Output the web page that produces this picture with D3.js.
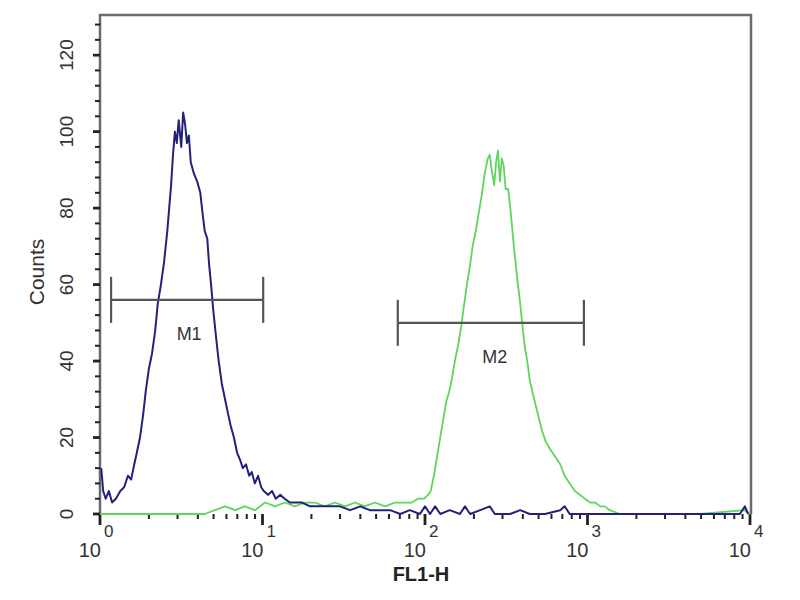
<!DOCTYPE html>
<html>
<head>
<meta charset="utf-8">
<script src="https://cdn.jsdelivr.net/npm/d3@7/dist/d3.min.js"></script>
<style>
  body { margin: 0; background: #fff; }
  svg { display: block; font-family: "Liberation Sans", Arial, sans-serif; }
</style>
</head>
<body>
<div id="canvas"></div>
<script>
"use strict";

/* drawing config */
let svgWidth = 800;
let svgHeight = 600;
let plotLeft = 100, plotRight = 751, plotTop = 15, plotBottom = 514;

/* histogram data: 1024 log channels over 4 decades, counts per channel */
let blueChannel = [2, 5, 9, 14, 19, 25, 32, 38, 44, 49, 54, 58, 63, 68, 72, 77, 82, 87, 91, 96,
  101, 106, 109, 112, 115, 118, 121, 124, 128, 131, 134, 137, 140, 143, 148, 153, 158, 162, 165, 169,
  172, 175, 178, 183, 187, 192, 197, 202, 206, 211, 216, 221, 225, 230, 235, 239, 244, 249, 254, 258,
  265, 271, 277, 284, 291, 299, 309, 318, 331, 347, 362, 378, 394, 410, 425, 441, 457, 473, 488, 504,
  512, 520, 528, 536, 551, 567, 575, 583, 599, 614, 622, 646, 662, 677, 701, 725, 732, 740, 772, 819,
  914, 1008, 1016, 1021];
let blueCount = [12, 6, 4, 6, 3, 4, 6, 7, 10, 9, 13, 16, 20, 26, 32, 38, 42, 48, 55, 60,
  66, 74, 80, 86, 94, 100, 97, 103, 96, 105, 102, 97, 99, 92, 89, 87, 84, 78, 74, 72,
  65, 60, 54, 46, 40, 34, 30, 26, 23, 20, 16, 14, 12, 13, 10, 11, 8, 10, 7, 6,
  5, 6, 4, 5, 4, 3, 3, 3, 2, 2, 2, 2, 1, 2, 1, 1, 1, 0, 1, 0,
  2, 0, 2, 0, 1, 0, 2, 0, 1, 2, 0, 0, 1, 0, 0, 1, 2, 0, 0, 0,
  0, 0, 2, 0];

let greenChannel = [0, 79, 165, 181, 197, 213, 228, 244, 260, 276, 291, 307, 323, 339, 354, 370, 386, 402, 417, 433,
  449, 465, 480, 491, 501, 510, 517, 521, 526, 531, 536, 540, 545, 550, 554, 559, 564, 569, 573, 578,
  583, 587, 592, 597, 602, 606, 611, 614, 617, 621, 624, 627, 630, 633, 636, 639, 643, 647, 652, 657,
  662, 665, 669, 674, 677, 684, 690, 696, 702, 709, 717, 725, 732, 740, 748, 756, 764, 772, 780, 788,
  795, 803, 819, 945, 1016, 1024];
let greenCount = [0, 0, 0, 1, 2, 1, 2, 1, 3, 2, 3, 2, 3, 3, 2, 3, 2, 3, 2, 3,
  2, 3, 3, 3, 4, 4, 5, 6, 10, 15, 20, 24, 29, 32, 35, 40, 44, 49, 54, 60,
  65, 70, 74, 79, 84, 89, 93, 94, 90, 86, 92, 95, 87, 93, 91, 85, 85, 79, 70, 62,
  55, 50, 44, 39, 35, 30, 26, 22, 19, 17, 15, 13, 10, 8, 6, 5, 4, 3, 3, 2,
  2, 1, 0, 0, 1, 0];

/* markers (FL1-H range) */
let markerNames = ["M1", "M2"];
let markerFrom = [1.17, 68];
let markerTo = [10.1, 950];
let markerLevel = [56, 50];

/* axis ticks */
let yTicks = [0, 20, 40, 60, 80, 100, 120];
let xDecades = ["0", "1", "2", "3", "4"];

const svg = d3.select("#canvas")
  .append("svg")
  .attr("width", svgWidth)
  .attr("height", svgHeight);

// scales
const xScale = d3.scaleLog()
  .domain([1, 10000])
  .range([plotLeft, plotRight - 1]);

const yScale = d3.scaleLinear()
  .domain([0, 130.5])
  .range([plotBottom, plotTop]);

// channel -> FL1-H value (256 channels per decade)
const chanToValue = c => Math.pow(10, c / 256);

// frame
svg.append("path")
  .attr("d", `M${plotLeft},${plotBottom}V${plotTop}H${plotRight}V${plotBottom}`)
  .attr("fill", "none")
  .attr("stroke", "#6a6a6a")
  .attr("stroke-width", 2.5);

// y ticks (minor every 4, major every 20)
const yMinor = d3.range(0, 130, 4);
svg.append("g").selectAll("line")
  .data(yMinor)
  .enter()
  .append("line")
  .attr("x1", plotLeft)
  .attr("x2", d => plotLeft - (d % 20 === 0 ? 7 : 5))
  .attr("y1", d => yScale(d))
  .attr("y2", d => yScale(d))
  .attr("stroke", "#222")
  .attr("stroke-width", d => d % 20 === 0 ? 2.8 : 2);

svg.append("g").selectAll("text")
  .data(yTicks)
  .enter()
  .append("text")
  .attr("transform", d => `translate(66,${yScale(d)}) rotate(-90)`)
  .attr("text-anchor", "middle")
  .attr("dy", "0.35em")
  .attr("font-size", "19px")
  .attr("fill", "#333")
  .text(d => String(d));

// x ticks (log)
const xMinor = [];
[0, 1, 2, 3].forEach(dec => {
  for (let m = 1; m < 10; m++) xMinor.push(m * Math.pow(10, dec));
});
xMinor.push(10000);

svg.append("g").selectAll("line")
  .data(xMinor)
  .enter()
  .append("line")
  .attr("x1", d => xScale(d))
  .attr("x2", d => xScale(d))
  .attr("y1", plotBottom)
  .attr("y2", d => plotBottom + (Math.log10(d) % 1 === 0 ? 11 : 5))
  .attr("stroke", "#222")
  .attr("stroke-width", d => Math.log10(d) % 1 === 0 ? 2.8 : 2);

// tick labels 10^n : base and raised exponent
xDecades.forEach(exp => {
  const tx = xScale(Math.pow(10, +exp));
  svg.append("text")
    .attr("x", tx + 1)
    .attr("y", 557)
    .attr("text-anchor", "end")
    .attr("font-size", "20px")
    .attr("fill", "#333")
    .text("10");
  svg.append("text")
    .attr("x", tx + 4)
    .attr("y", 537)
    .attr("text-anchor", "start")
    .attr("font-size", "17px")
    .attr("fill", "#333")
    .text(exp);
});

// axis titles
svg.append("text")
  .attr("x", 421)
  .attr("y", 581)
  .attr("text-anchor", "middle")
  .attr("font-size", "20px")
  .attr("font-weight", "bold")
  .attr("fill", "#222")
  .text("FL1-H");

svg.append("text")
  .attr("transform", "translate(37,272) rotate(-90)")
  .attr("text-anchor", "middle")
  .attr("dy", "0.35em")
  .attr("font-size", "21px")
  .attr("fill", "#333")
  .text("Counts");

// histograms
const line = d3.line()
  .x(d => xScale(chanToValue(d[0])))
  .y(d => yScale(d[1]));

svg.append("path")
  .datum(d3.zip(greenChannel, greenCount))
  .attr("d", line)
  .attr("fill", "none")
  .attr("stroke", "#5fd65a")
  .attr("stroke-width", 1.8)
  .attr("stroke-linejoin", "round");

svg.append("path")
  .datum(d3.zip(blueChannel, blueCount))
  .attr("d", line)
  .attr("fill", "none")
  .attr("stroke", "#22227a")
  .attr("stroke-width", 2)
  .attr("stroke-linejoin", "round");

// markers
markerNames.forEach((name, i) => {
  const x1 = xScale(markerFrom[i]);
  const x2 = xScale(markerTo[i]);
  const y = yScale(markerLevel[i]);
  const g = svg.append("g")
    .attr("stroke", "#555")
    .attr("stroke-width", 2.2);
  g.append("line").attr("x1", x1).attr("x2", x2).attr("y1", y).attr("y2", y);
  g.append("line").attr("x1", x1).attr("x2", x1).attr("y1", y - 23).attr("y2", y + 23);
  g.append("line").attr("x1", x2).attr("x2", x2).attr("y1", y - 23).attr("y2", y + 23);
  svg.append("text")
    .attr("x", (x1 + x2) / 2 + (i === 0 ? 2 : 4))
    .attr("y", y + 40)
    .attr("text-anchor", "middle")
    .attr("font-size", "18px")
    .attr("fill", "#333")
    .text(name);
});
</script>
</body>
</html>
